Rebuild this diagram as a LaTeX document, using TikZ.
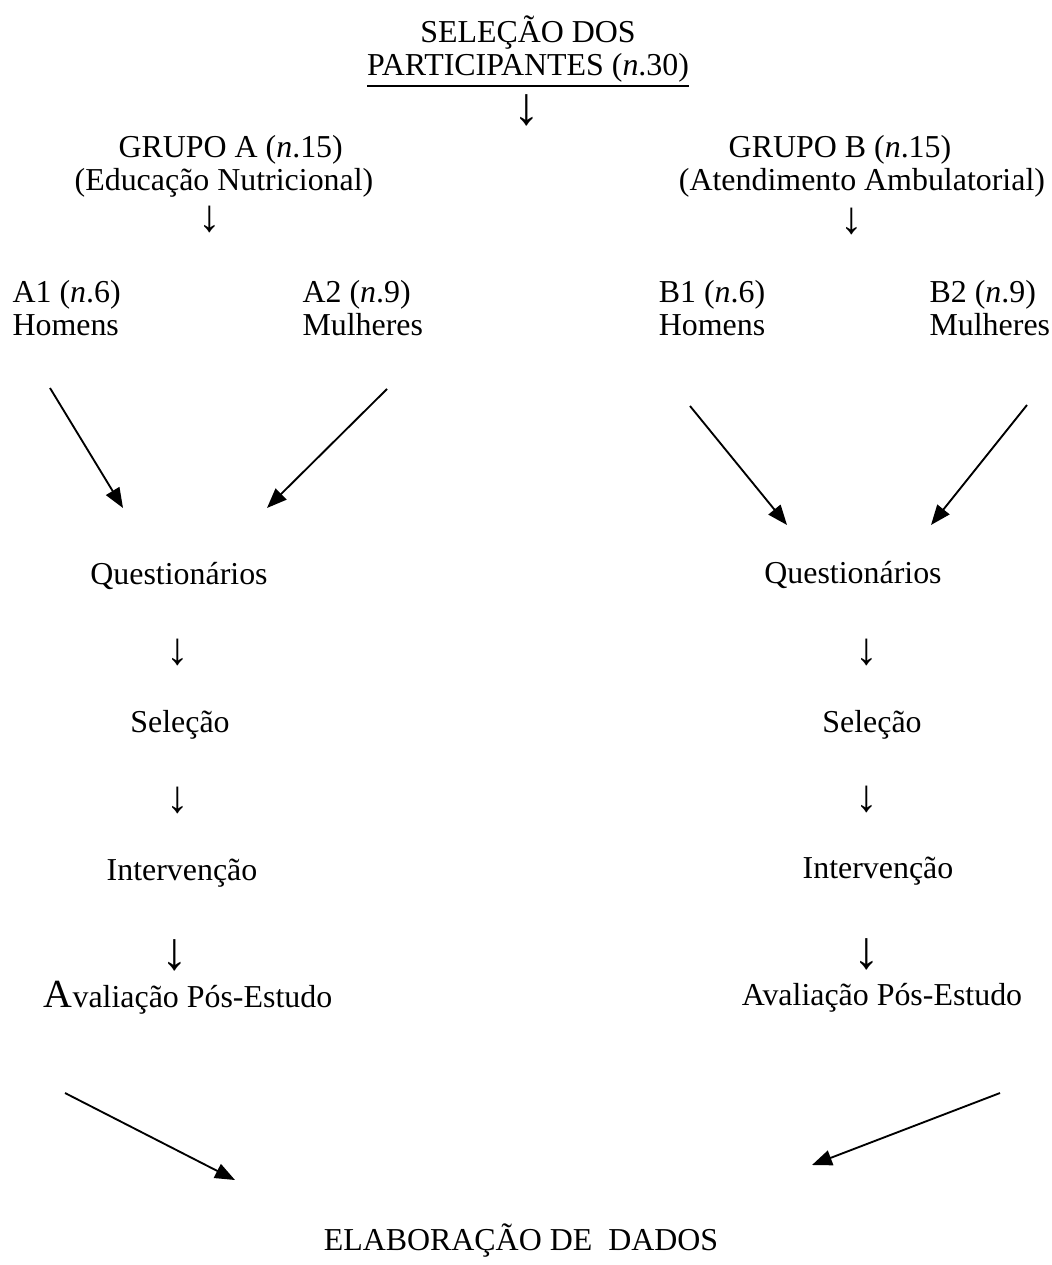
\documentclass[tikz,border=0pt]{standalone}
\usepackage{fontspec}
\setmainfont{Liberation Serif}
\usetikzlibrary{arrows.meta}
\tikzset{
  lines/.style={align=center},
  leftlines/.style={align=left},
  down/.style={font=\fontsize{17}{17}\selectfont},
  bigdown/.style={font=\fontsize{20}{20}\selectfont},
  arrow/.style={-{Triangle[length=7.5pt, width=5.8pt]}, line width=0.7pt, draw=black}
}
\begin{document}
\begin{tikzpicture}[
  x=0.376pt, y=-0.376pt,
  every node/.style={inner sep=0pt, font=\fontsize{12}{12.5}\selectfont}
]
  \useasboundingbox (0,0) rectangle (1051,1265);
  \node[lines, anchor=north] (sel) at (528,15) {SELEÇÃO DOS\\\underline{PARTICIPANTES (\textit{n}.30)}};
  \node[bigdown] (d0) at (527,110) {↓};
  \node[lines, anchor=north] (grpa) at (224,135) {\hspace*{5pt}GRUPO A (\textit{n}.15)\\(Educação Nutricional)};
  \node[lines, anchor=north] (grpb) at (840,135) {GRUPO B (\textit{n}.15)\\\hspace*{16.5pt}(Atendimento Ambulatorial)};
  \node[down] (da0) at (210,219) {↓};
  \node[down] (db0) at (852,221) {↓};
  \node[leftlines, anchor=north west] (a1) at (12,280) {A1 (\textit{n}.6)\\Homens};
  \node[leftlines, anchor=north west] (a2) at (302,280) {A2 (\textit{n}.9)\\Mulheres};
  \node[lines, anchor=north] (b1) at (712,280) {B1 (\textit{n}.6)\\Homens};
  \node[leftlines, anchor=north west] (b2) at (929,280) {B2 (\textit{n}.9)\\Mulheres};
  \node[anchor=base] (qa) at (179,584) {Questionários};
  \node[anchor=base] (qb) at (853,583) {Questionários};
  \draw[arrow] ([shift={(38,108)}]a1.north west) -- ([shift={(-56,-76)}]qa.base);
  \draw[arrow] ([shift={(85,109)}]a2.north west) -- ([shift={(88,-76)}]qa.base);
  \draw[arrow] ([shift={(-22,126)}]b1.north) -- ([shift={(-66,-58)}]qb.base);
  \draw[arrow] ([shift={(98,125)}]b2.north west) -- ([shift={(78,-58)}]qb.base);
  \node[down] (da1) at (178,652) {↓};
  \node[anchor=base] (sa) at (180,732) {Seleção};
  \node[down] (da2) at (178,800) {↓};
  \node[anchor=base] (ia) at (182,880) {Intervenção};
  \node[bigdown] (da3) at (175,955) {↓};
  \node[anchor=base] (va) at (188,1007) {{\fontsize{15}{15}\selectfont A}valiação Pós-Estudo};
  \node[down] (db1) at (867,652) {↓};
  \node[anchor=base] (sb) at (872,732) {Seleção};
  \node[down] (db2) at (867,799) {↓};
  \node[anchor=base] (ib) at (878,878) {Intervenção};
  \node[bigdown] (db3) at (867,954) {↓};
  \node[anchor=base] (vb) at (882,1005) {Avaliação Pós-Estudo};
  \node[anchor=base] (elab) at (521,1250) {ELABORAÇÃO DE\ \ DADOS};
  \draw[arrow] ([shift={(-123,86)}]va.base) -- ([shift={(-286,-70)}]elab.base);
  \draw[arrow] ([shift={(118,88)}]vb.base) -- ([shift={(291,-85)}]elab.base);
\end{tikzpicture}
\end{document}
